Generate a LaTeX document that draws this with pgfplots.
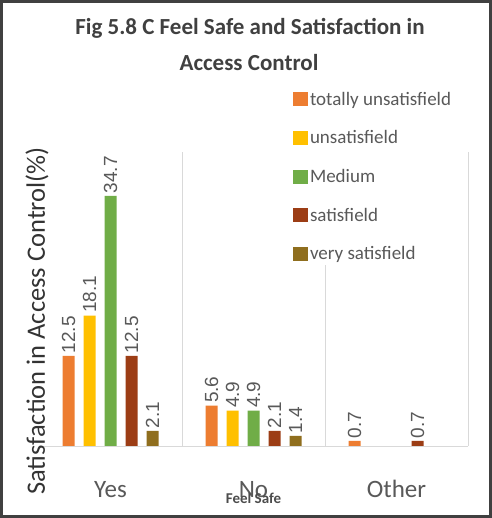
\documentclass[border=0pt]{standalone}
\usepackage{pgfplots}
\pgfplotsset{compat=1.18}
\usepackage{fontspec}
\setmainfont{Carlito}
\newfontfamily\labfont{Liberation Sans}
\definecolor{c1}{HTML}{ED7D31}
\definecolor{c2}{HTML}{FFC000}
\definecolor{c3}{HTML}{70AD47}
\definecolor{c4}{HTML}{9C3D15}
\definecolor{c5}{HTML}{8F6E1E}
\definecolor{txt}{HTML}{595959}
\begin{document}
\begin{tikzpicture}[x=1bp,y=1bp]
\path[use as bounding box, fill=white] (0,0) rectangle (492,518);
\begin{axis}[
  at={(39bp,72bp)}, anchor=south west, scale only axis,
  width=429bp, height=294bp,
  ybar=9bp, bar width=12bp,
  xmin=-0.5, xmax=2.5, ymin=0, ymax=40.8,
  axis y line=none, axis x line*=bottom,
  x axis line style={draw=black!15, line width=0.8bp, -},
  /pgf/number format/assume math mode=true,
  xtick={0,1,2}, xticklabels={Yes,No,Other},
  major tick length=0pt,
  extra x ticks={0.5,1.5,2.5}, extra x tick labels={},
  extra x tick style={grid=major, major grid style={draw=black!15, line width=0.8bp}},
  xticklabel style={font=\fontsize{25bp}{30bp}\selectfont, color=txt, anchor=base, yshift=-51bp},
  xlabel={Feel Safe},
  xlabel style={font=\bfseries\fontsize{15bp}{18bp}\selectfont, color=black!70, at={(axis description cs:0.5,0)}, anchor=base, yshift=-57bp},
  nodes near coords,
  nodes near coords style={rotate=90, anchor=west, font=\labfont\fontsize{19bp}{22bp}\selectfont, color=txt, inner sep=2.5bp},
  legend style={at={(axis description cs:0.587,1.218)}, anchor=north west, draw=none, fill=white,
    font=\fontsize{19bp}{22bp}\selectfont, text=txt, row sep=20bp, inner sep=2bp},
  legend cell align=left,
  legend image code/.code={\fill[#1] (-4bp,-7bp) rectangle (11bp,7bp);},
]
\addplot[fill=c1, draw=none] coordinates {(0,12.5) (1,5.6) (2,0.7)};
\addplot[fill=c2, draw=none] coordinates {(0,18.1) (1,4.9)};
\addplot[fill=c3, draw=none] coordinates {(0,34.7) (1,4.9)};
\addplot[fill=c4, draw=none] coordinates {(0,12.5) (1,2.1) (2,0.7)};
\addplot[fill=c5, draw=none] coordinates {(0,2.1) (1,1.4)};
\legend{totally unsatisfield, unsatisfield, Medium, satisfield, very satisfield}
\end{axis}
\node[font=\bfseries\fontsize{23bp}{27bp}\selectfont, color=black!75] at (250,490) {Fig 5.8 C Feel Safe and Satisfaction in};
\node[font=\bfseries\fontsize{23bp}{27bp}\selectfont, color=black!75] at (249,455) {Access Control};
\node[rotate=90, font=\fontsize{26.5bp}{30bp}\selectfont, color=black!80] at (37,197) {Satisfaction in Access Control(\%)};
\draw[line width=3bp, color=black!75] (1.5,1.5) rectangle (490.5,516.5);
\end{tikzpicture}
\end{document}
